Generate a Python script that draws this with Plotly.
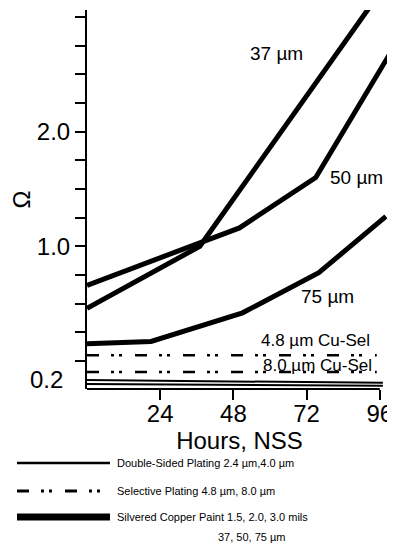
import plotly.graph_objects as go

# ---------------- data ----------------
HOURS_37 = [0, 37, 96]
OHM_37 = [0.46, 1.00, 3.21]

HOURS_50 = [0, 50, 75, 100]
OHM_50 = [0.66, 1.16, 1.60, 2.71]

HOURS_75 = [0, 21, 51, 76, 98]
OHM_75 = [0.15, 0.17, 0.42, 0.77, 1.26]

HOURS_SEL = [0, 95]
OHM_SEL_48 = [0.05, 0.05]
OHM_SEL_80 = [-0.095, -0.095]

HOURS_DS = [0, 97]
OHM_DS_24 = [-0.166, -0.19]
OHM_DS_40 = [-0.20, -0.216]

X_TICKS = [24, 48, 72, 96]
Y_TICK_VALS = [0, 0.25, 0.5, 0.75, 1.0, 1.25, 1.5, 1.75, 2.0, 2.25, 2.5, 2.75, 3.0]
Y_TICK_TEXT = ["", "", "", "", "1.0", "", "", "", "2.0", "", "", "", ""]

SERIES_LABELS = ["37 µm", "50 µm", "75 µm", "4.8 µm Cu-Sel", "8.0 µm Cu-Sel"]
LEGEND_TEXT = [
    "Double-Sided Plating 2.4 µm,4.0 µm",
    "Selective Plating 4.8 µm, 8.0 µm",
    "Silvered Copper Paint 1.5, 2.0, 3.0 mils",
    "37, 50, 75 µm",
]

# ---------------- layout geometry (screen pixels) ----------------
PAGE_OFFSET = 8            # default body margin of the html page
W, H = 395 - PAGE_OFFSET, 553 - PAGE_OFFSET
PLOT_LEFT, PLOT_TOP, PLOT_RIGHT, PLOT_BOTTOM = 87, 10, 392, 389
ML = PLOT_LEFT - PAGE_OFFSET
MT = PLOT_TOP - PAGE_OFFSET
MR = 395 - PLOT_RIGHT
MB = 553 - PLOT_BOTTOM
PW = PLOT_RIGHT - PLOT_LEFT
PH = PLOT_BOTTOM - PLOT_TOP

FONT = "Liberation Sans, Arial, Helvetica, sans-serif"
DASH = "12px,12px,3px,5px,3px,13px"


def px_x(px):
    return (px - PLOT_LEFT) / PW


def px_y(py):
    return (PLOT_BOTTOM - py) / PH


fig = go.Figure()

thick = dict(color="black", width=5)
fig.add_trace(go.Scatter(x=HOURS_37, y=OHM_37, mode="lines", line=thick))
fig.add_trace(go.Scatter(x=HOURS_50, y=OHM_50, mode="lines", line=thick))
fig.add_trace(go.Scatter(x=HOURS_75, y=OHM_75, mode="lines", line=thick))

dashed = dict(color="black", width=2.5, dash=DASH)
fig.add_trace(go.Scatter(x=HOURS_SEL, y=OHM_SEL_48, mode="lines", line=dashed))
fig.add_trace(go.Scatter(x=HOURS_SEL, y=OHM_SEL_80, mode="lines", line=dashed))

thin = dict(color="black", width=2)
fig.add_trace(go.Scatter(x=HOURS_DS, y=OHM_DS_24, mode="lines", line=thin))
fig.add_trace(go.Scatter(x=HOURS_DS, y=OHM_DS_40, mode="lines", line=thin))

# in-plot labels
lab_font = dict(family=FONT, size=19, color="black")
small_font = dict(family=FONT, size=17, color="black")
annotations = [
    dict(x=62, y=2.68, text=SERIES_LABELS[0], font=lab_font),
    dict(x=88.5, y=1.60, text=SERIES_LABELS[1], font=lab_font),
    dict(x=78.7, y=0.56, text=SERIES_LABELS[2], font=lab_font),
    dict(x=56.4, y=0.18, text=SERIES_LABELS[3], font=small_font, xanchor="left"),
    dict(x=57.0, y=-0.04, text=SERIES_LABELS[4], font=small_font, xanchor="left"),
]
for a in annotations:
    a.update(xref="x", yref="y", showarrow=False)

# "0.2" label at bottom of y axis
annotations.append(dict(xref="paper", yref="y", x=0, y=-0.157, xanchor="right",
                        xshift=-22, text="0.2", showarrow=False,
                        font=dict(family=FONT, size=24, color="black")))

# legend (drawn)
leg_font = dict(family=FONT, size=11, color="black")
leg_rows = [463, 491, 517]
for txt, py in zip(LEGEND_TEXT[:3], leg_rows):
    annotations.append(dict(xref="paper", yref="paper", x=px_x(115), y=px_y(py),
                            xanchor="left", yanchor="middle", text=txt,
                            showarrow=False, font=leg_font))
annotations.append(dict(xref="paper", yref="paper", x=px_x(288), y=px_y(537),
                        xanchor="right", yanchor="middle", text=LEGEND_TEXT[3],
                        showarrow=False, font=leg_font))

shapes = [
    # x axis line (ends at the 96 tick)
    dict(type="line", xref="x", yref="paper", x0=0, x1=96, y0=0, y1=0,
         line=dict(color="black", width=2)),
    dict(type="line", xref="paper", yref="paper", x0=px_x(17), x1=px_x(110),
         y0=px_y(leg_rows[0]), y1=px_y(leg_rows[0]), line=dict(color="black", width=2.5)),
    dict(type="line", xref="paper", yref="paper", x0=px_x(17), x1=px_x(104),
         y0=px_y(leg_rows[1]), y1=px_y(leg_rows[1]),
         line=dict(color="black", width=3, dash=DASH)),
    dict(type="line", xref="paper", yref="paper", x0=px_x(17), x1=px_x(110),
         y0=px_y(leg_rows[2]), y1=px_y(leg_rows[2]), line=dict(color="black", width=7)),
]

fig.update_layout(
    width=W, height=H,
    margin=dict(l=ML, r=MR, t=MT, b=MB),
    paper_bgcolor="white", plot_bgcolor="white",
    showlegend=False,
    font=dict(family=FONT, color="black"),
    annotations=annotations,
    shapes=shapes,
)
fig.update_xaxes(
    range=[0, 100], showgrid=False, zeroline=False, showline=False,
    tickmode="array", tickvals=X_TICKS, ticks="outside", ticklen=10,
    tickwidth=1.5, tickcolor="black", ticklabelstandoff=-7,
    tickfont=dict(family=FONT, size=24, color="black"),
    title=dict(text="Hours, NSS", font=dict(family=FONT, size=24, color="black"),
               standoff=4),
)
fig.update_yaxes(
    range=[-0.244, 3.06], showgrid=False, zeroline=False,
    showline=True, linecolor="black", linewidth=2,
    tickmode="array", tickvals=Y_TICK_VALS, ticktext=Y_TICK_TEXT,
    ticks="outside", ticklen=10, tickwidth=1.5, tickcolor="black",
    tickfont=dict(family=FONT, size=24, color="black"),
    title=dict(text="Ω", font=dict(family=FONT, size=24, color="black"),
               standoff=4),
)

fig.write_html("out.html")
